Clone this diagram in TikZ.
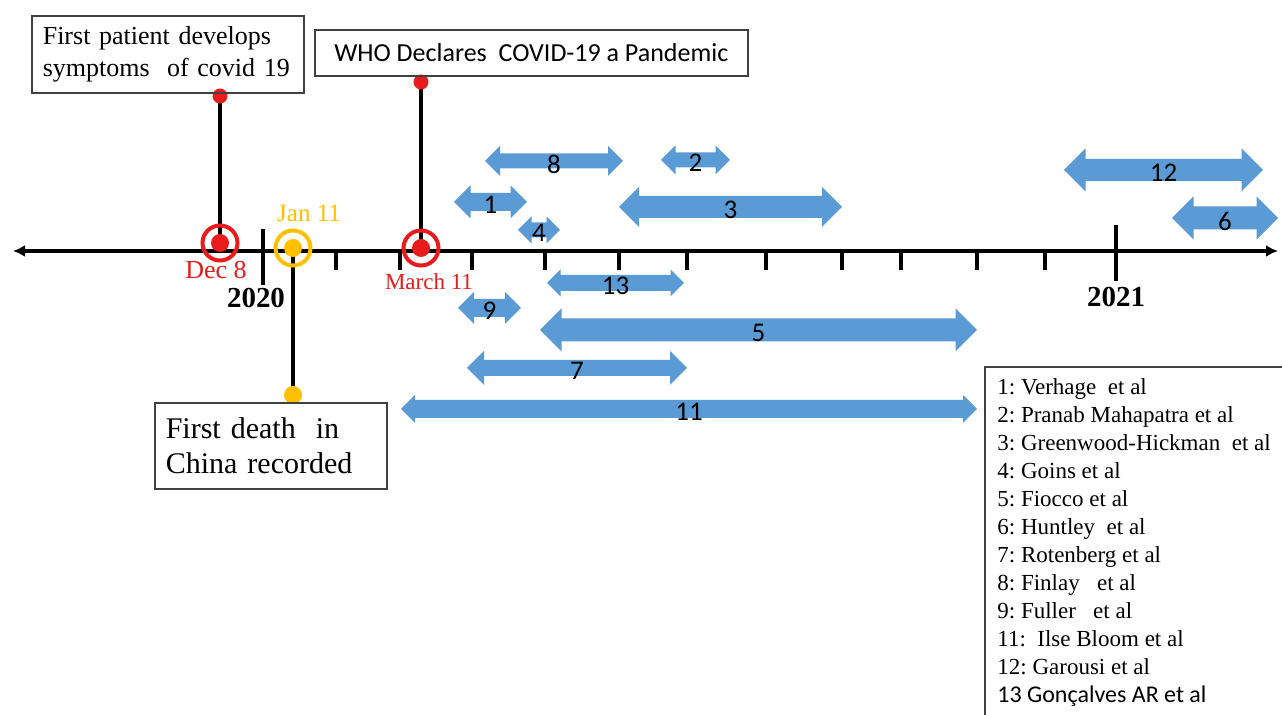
\documentclass[tikz,border=0pt]{standalone}
\usepackage{fontspec}
\setmainfont{Liberation Serif}
\newfontfamily\calib{Carlito}
\usetikzlibrary{arrows.meta,backgrounds}
\definecolor{spanblue}{RGB}{91,155,213}
\definecolor{evred}{RGB}{232,28,28}
\definecolor{evgold}{RGB}{255,192,0}
\definecolor{boxgray}{RGB}{64,64,64}
\frenchspacing
\tikzset{
  spanarrow/.style={fill=spanblue},
  spanlbl/.style={font=\calib\fontsize{13.5}{16}\selectfont, inner sep=0pt, yshift=-1.5pt},
  evring/.style={circle, draw=#1, line width=2pt, minimum size=17.5pt, inner sep=0pt,
    path picture={\fill[#1] (path picture bounding box.center) circle (4.5pt);}},
  evdot/.style={circle, fill=#1, minimum size=7.5pt, inner sep=0pt},
  stemline/.style={line width=2pt, black},
  timeaxis/.style={line width=1.6pt, {Latex[length=6pt,width=6pt]}-{Latex[length=6pt,width=6pt]}},
  tickmark/.style={line width=1.6pt},
  evbox/.style={draw=boxgray, line width=0.8pt, anchor=north west, inner xsep=5.5pt, align=left},
  datelbl/.style={anchor=base, inner sep=0pt, text=#1},
  legitem/.style={anchor=base west, inner sep=0pt, font=\fontsize{11.5}{14}\selectfont},
}
% one study period: name, from, to, y, head, shaft, label
\newcommand{\period}[7]{%
  \fill[spanarrow] (#2,#4) -- ++(#5/2,-#5/2) -- ++(0,#5/2-#6/2) -- (#3-#5/2,#4-#6/2)
    -- ++(0,#6/2-#5/2) -- (#3,#4) -- ++(-#5/2,#5/2) -- ++(0,#6/2-#5/2)
    -- (#2+#5/2,#4+#6/2) -- ++(0,#5/2-#6/2) -- cycle;
  \node[spanlbl] (#1) at ({(#2+#3)/2},#4) {#7};
}

\begin{document}
\begin{tikzpicture}[x=0.5pt, y=-0.5pt]
\useasboundingbox (0,0) rectangle (1282,715);
\begin{scope}[on background layer]
\fill[white] (0,0) rectangle (1282,715);
\end{scope}

% time line
\coordinate (axl) at (13,251);
\coordinate (axr) at (1278,251);
\draw[timeaxis] (axl) -- (axr);
\foreach \t in {336,400,472,545,619,687,766,842,901,977,1045}
  \draw[tickmark] (\t,251) -- (\t,270);
\draw[tickmark] (263,229) -- (263,285);
\draw[tickmark] (1116,225) -- (1116,281);
\node[datelbl=black, font=\bfseries\fontsize{14.5}{17}\selectfont] (y2020) at (256,308) {2020};
\node[datelbl=black, font=\bfseries\fontsize{14.5}{17}\selectfont] (y2021) at (1116,307) {2021};

% events
\node[evring=evred] (dec8) at (220,243) {};
\node[evring=evgold] (jan11) at (293,248) {};
\node[evring=evred] (mar11) at (421,248) {};
\node[evdot=evred] (dec8top) at (220,96) {};
\node[evdot=evred] (mar11top) at (421,82) {};
\node[evdot=evgold, minimum size=9pt] (jan11bot) at (293,395) {};
\begin{scope}[on background layer]
\draw[stemline] (dec8.center) -- (dec8top.center);
\draw[stemline] (mar11.center) -- (mar11top.center);
\draw[stemline] (jan11.center) -- (jan11bot.center);
\end{scope}
\node[datelbl=evred, font=\fontsize{13}{15}\selectfont] (dec8lbl) at (216,279) {Dec 8};
\node[datelbl=evgold, font=\fontsize{12.5}{15}\selectfont] (jan11lbl) at (309,222) {Jan 11};
\node[datelbl=evred, font=\fontsize{11.5}{14}\selectfont] (mar11lbl) at (429,290) {March 11};

\node[evbox, minimum width=136pt, minimum height=38.5pt, text width=125pt,
  font=\fontsize{13}{16}\selectfont] (symptoms) at (31,15)
  {First patient develops\\ symptoms~ of covid 19};
\node[evbox, align=center, minimum width=216.5pt, minimum height=23pt,
  font=\calib\fontsize{13}{16}\selectfont] (who) at (314,29)
  {WHO Declares~ COVID-19 a Pandemic};
\node[evbox, minimum width=116pt, minimum height=43pt, text width=105pt,
  font=\fontsize{15}{17.5}\selectfont] (death) at (154,402)
  {First death~ in\\ China recorded};

% study periods
\period{p8}{485}{623}{161}{30}{15}{8}
\period{p2}{661}{730}{160}{29}{15}{2}
\period{p1}{454}{527}{202}{33}{18}{1}
\period{p3}{619}{842}{207}{40}{22}{3}
\period{p4}{518}{560}{230}{27}{15}{4}
\period{p12}{1064}{1263}{170}{43}{22}{12}
\period{p6}{1172}{1278}{218}{43}{23}{6}
\period{p13}{547}{684}{283}{27}{16}{13}
\period{p9}{458}{521}{308}{32}{18}{9}
\period{p5}{540}{977}{330}{43}{23}{5}
\period{p7}{467}{687}{368}{34}{16}{7}
\period{p11}{401}{977}{409}{28}{18}{11}

% legend
\draw[boxgray, line width=0.8pt] (985,367) rectangle (1300,730);
\foreach \txt [count=\i from 0] in {1: Verhage~ et al, 2: Pranab Mahapatra et al,
  3: Greenwood-Hickman~ et al, 4: Goins et al, 5: Fiocco et al, 6: Huntley~ et al,
  7: Rotenberg et al, 8: Finlay~~ et al, 9: Fuller~~ et al, 11:~ Ilse Bloom et al,
  12: Garousi et al}
  \node[legitem] (leg\i) at (997,395+28*\i) {\txt};
\node[legitem, font=\calib\fontsize{12}{14}\selectfont] (leg11) at (997,703) {13 Gonçalves AR et al};
\end{tikzpicture}
\end{document}
